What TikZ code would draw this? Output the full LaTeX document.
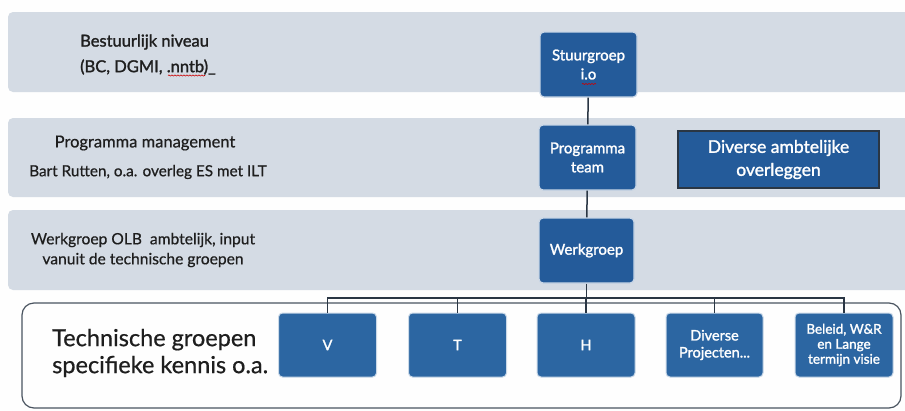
\documentclass[tikz,border=0pt]{standalone}
\usepackage{fontspec}
\setmainfont{Lato}
\newfontfamily\medfont{Lato}[FakeBold=0.6]
\newfontfamily\semifont{Lato}[FakeBold=1.5]
\usetikzlibrary{decorations.pathmorphing}
\definecolor{bandfill}{HTML}{D4DBE4}
\definecolor{boxblue}{HTML}{245B9A}
\definecolor{boxblue2}{HTML}{2C66A2}
\definecolor{linecol}{HTML}{2A3644}
\definecolor{txtcol}{HTML}{1E1E1E}
\tikzset{
  band/.style={fill=bandfill, draw=none, rounded corners=5pt},
  bandtext/.style={text=txtcol, inner sep=0pt, align=center},
  bluebox/.style={fill=boxblue, draw=white!75!boxblue, line width=1.2pt, rounded corners=4pt, text=white, align=center, font=\semifont\fontsize{15}{19}\selectfont, inner sep=0pt},
  techbox/.style={fill=boxblue2, draw=white!75!boxblue2, line width=1pt, rounded corners=4pt, text=white, align=center, font=\semifont\fontsize{14.5}{17}\selectfont, inner sep=0pt, minimum width=98pt, minimum height=64pt},
  conn/.style={draw=linecol, line width=1.5pt},
  squiggle/.style={draw=red!80!black, line width=0.6pt, decorate, decoration={snake, amplitude=0.6pt, segment length=3pt}}
}
\begin{document}
\begin{tikzpicture}[x=1pt,y=-1pt]
\useasboundingbox (0,0) rectangle (905,410);
\clip (0,0) rectangle (905,410);
\fill[white!97!bandfill] (0,0) rectangle (905,410);
% bands
\path[band] (8,12) rectangle (915,92);
\path[band] (8,118) rectangle (915,197);
\path[band] (8,210) rectangle (915,290);
% band texts
\node[bandtext, anchor=west, font=\semifont\fontsize{16.5}{20}\selectfont] (b1a) at (80,42) {Bestuurlijk niveau};
\node[bandtext, anchor=west, font=\semifont\fontsize{16.5}{20}\selectfont] (b1b) at (80,67) {(BC, DGMI, .nntb)\_};
\node[bandtext, font=\medfont\fontsize{16.5}{20}\selectfont] (b2a) at (145,143) {Programma management};
\node[bandtext, font=\medfont\fontsize{15.3}{20}\selectfont] (b2b) at (148,172) {Bart Rutten, o.a. overleg ES met ILT};
\node[bandtext, font=\medfont\fontsize{15.6}{20}\selectfont] (b3a) at (143,240) {Werkgroep OLB\ \ ambtelijk, input};
\node[bandtext, font=\medfont\fontsize{15.6}{20}\selectfont] (b3b) at (143,260) {vanuit de technische groepen};
% main boxes
\node[bluebox, minimum width=97pt, minimum height=65pt] (stuur) at (588.5,64.5) {Stuurgroep\\i.o};
\node[bluebox, minimum width=97pt, minimum height=65pt] (prog) at (587.5,157.5) {Programma\\team};
\node[bluebox, minimum width=95pt, minimum height=65pt] (werk) at (586.5,250.5) {Werkgroep};
\node[fill=boxblue, draw=linecol, line width=1.2pt, text=white, align=center, font=\semifont\fontsize{17.5}{23}\selectfont, minimum width=201pt, minimum height=57pt, inner sep=0pt] (div) at (778.5,159.5) {Diverse ambtelijke\\overleggen};
% spell-check squiggles
\draw[squiggle] (168,75.5) -- (205,75.5);
\draw[squiggle] (582,84) -- (596,84);
% bottom container
\draw[draw=linecol!85, line width=1.2pt, rounded corners=12pt] (22,303) rectangle (901,408);
\node[text=txtcol, font=\medfont\fontsize{23.5}{27}\selectfont, align=left, anchor=west, inner sep=0pt] (tech) at (52,353) {Technische groepen\\specifieke kennis o.a.};
% technical group boxes
\node[techbox] (v) at (327.5,345) {V};
\node[techbox] (t) at (457.5,345) {T};
\node[techbox] (h) at (586,345) {H};
\node[techbox, minimum width=97pt] (dp) at (714.5,345) {Diverse\\Projecten...};
\node[techbox, font=\semifont\fontsize{13.5}{15}\selectfont] (bl) at (844,345) {Beleid, W\&R\\en Lange\\termijn visie};
% connectors
\coordinate (bar) at (0,298);
\draw[conn] (stuur) -- (prog);
\draw[conn] (prog) -- (werk);
\draw[conn] (werk) -- (werk |- bar);
\draw[conn] (v.north) -- (v.north |- bar) -- (bl.north |- bar) -- (bl.north);
\draw[conn] (t.north) -- (t.north |- bar);
\draw[conn] (h.north) -- (h.north |- bar);
\draw[conn] (dp.north) -- (dp.north |- bar);
\end{tikzpicture}
\end{document}
